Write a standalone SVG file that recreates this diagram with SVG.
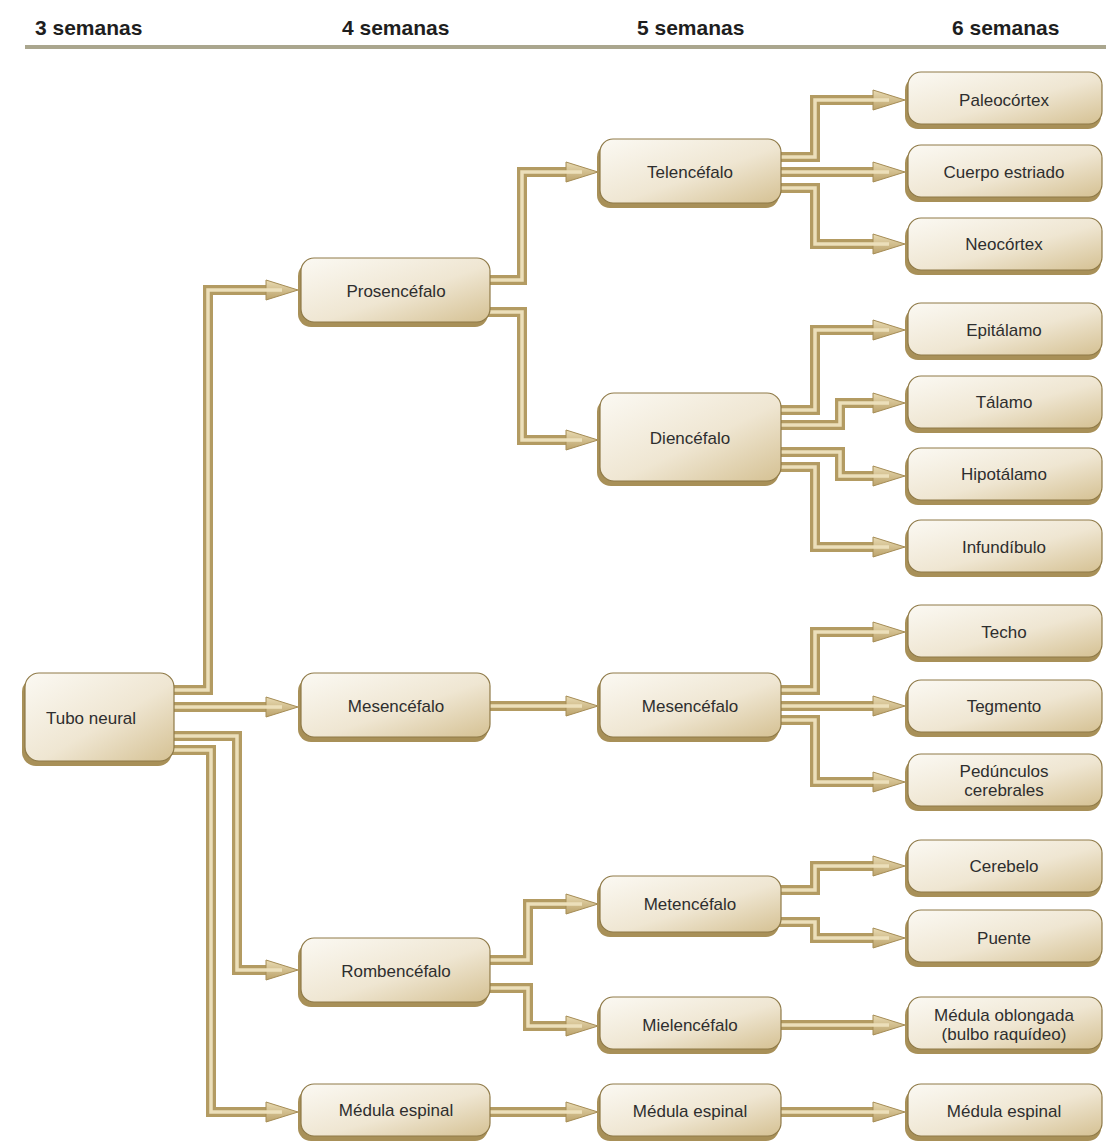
<svg xmlns="http://www.w3.org/2000/svg" width="1110" height="1143" viewBox="0 0 1110 1143">
<defs>
<linearGradient id="gb" x1="0" y1="0" x2="1" y2="1">
<stop offset="0" stop-color="#fbf9f3"/>
<stop offset="0.55" stop-color="#efe6d2"/>
<stop offset="1" stop-color="#d5c193"/>
</linearGradient>
<linearGradient id="ga" x1="0" y1="0" x2="0" y2="1">
<stop offset="0" stop-color="#e9dbb3"/>
<stop offset="1" stop-color="#bba26a"/>
</linearGradient>
<marker id="ah" markerUnits="userSpaceOnUse" markerWidth="34" markerHeight="26" viewBox="-2 -13 34 26" refX="12" refY="0" orient="auto">
<path d="M0,-10 L32,0 L0,10 Z" fill="url(#ga)" stroke="#a58c55" stroke-width="1"/>
</marker>
</defs>
<style>
.sh{fill:#a89058;}
.bx{fill:url(#gb);stroke:#8f7a48;stroke-width:1.2;}
.t{font-family:"Liberation Sans",Arial,sans-serif;font-size:17px;fill:#2e2e2e;text-anchor:middle;}
.h{font-family:"Liberation Sans",Arial,sans-serif;font-size:21px;font-weight:bold;fill:#1e1e1e;}
.co{fill:none;stroke:#b39b62;stroke-width:10;stroke-linejoin:miter;}
.ci{fill:none;stroke:#ecdfba;stroke-width:3.5;stroke-linejoin:miter;}
</style>
<rect width="1110" height="1143" fill="#ffffff"/>
<g id="header">
<text class="h" x="35" y="35">3 semanas</text>
<text class="h" x="342" y="35">4 semanas</text>
<text class="h" x="637" y="35">5 semanas</text>
<text class="h" x="952" y="35">6 semanas</text>
<line x1="25" y1="47" x2="1106" y2="47" stroke="#aaa68e" stroke-width="4"/>
</g>
<g id="connectors">
<g class="co" marker-end="url(#ah)">
<path d="M172,690 H208 V290 H278"/>
<path d="M172,707 H278"/>
<path d="M172,736 H237 V970 H278"/>
<path d="M172,750 H211 V1112 H278"/>
<path d="M488,280 H522 V172 H578"/>
<path d="M488,312 H522 V440 H578"/>
<path d="M488,706 H578"/>
<path d="M488,960 H528 V904 H578"/>
<path d="M488,988 H528 V1026 H578"/>
<path d="M488,1112 H578"/>
<path d="M778,157 H815 V100 H885"/>
<path d="M778,172 H885"/>
<path d="M778,188 H815 V244 H885"/>
<path d="M778,410 H815 V330 H885"/>
<path d="M778,425 H840 V403 H885"/>
<path d="M778,452 H840 V476 H885"/>
<path d="M778,467 H815 V547 H885"/>
<path d="M778,690 H815 V632 H885"/>
<path d="M778,706 H885"/>
<path d="M778,720 H815 V782 H885"/>
<path d="M778,890 H815 V866 H885"/>
<path d="M778,922 H815 V938 H885"/>
<path d="M778,1025 H885"/>
<path d="M778,1112 H885"/>
</g>
<g class="ci">
<path d="M172,690 H208 V290 H282"/>
<path d="M172,707 H282"/>
<path d="M172,736 H237 V970 H282"/>
<path d="M172,750 H211 V1112 H282"/>
<path d="M488,280 H522 V172 H582"/>
<path d="M488,312 H522 V440 H582"/>
<path d="M488,706 H582"/>
<path d="M488,960 H528 V904 H582"/>
<path d="M488,988 H528 V1026 H582"/>
<path d="M488,1112 H582"/>
<path d="M778,157 H815 V100 H889"/>
<path d="M778,172 H889"/>
<path d="M778,188 H815 V244 H889"/>
<path d="M778,410 H815 V330 H889"/>
<path d="M778,425 H840 V403 H889"/>
<path d="M778,452 H840 V476 H889"/>
<path d="M778,467 H815 V547 H889"/>
<path d="M778,690 H815 V632 H889"/>
<path d="M778,706 H889"/>
<path d="M778,720 H815 V782 H889"/>
<path d="M778,890 H815 V866 H889"/>
<path d="M778,922 H815 V938 H889"/>
<path d="M778,1025 H889"/>
<path d="M778,1112 H889"/>
</g>
</g>
<g id="n-tubo"><rect class="sh" x="22" y="678" width="150" height="88" rx="14"/><rect class="bx" x="25" y="673" width="149" height="88" rx="14"/><text class="t" x="91" y="724">Tubo neural</text></g>
<g id="n-prosencefalo"><rect class="sh" x="298" y="263" width="190" height="64" rx="13"/><rect class="bx" x="301" y="258" width="189" height="64" rx="13"/><text class="t" x="396" y="297">Prosencéfalo</text></g>
<g id="n-mesencefalo4"><rect class="sh" x="298" y="678" width="190" height="64" rx="13"/><rect class="bx" x="301" y="673" width="189" height="64" rx="13"/><text class="t" x="396" y="712">Mesencéfalo</text></g>
<g id="n-rombencefalo"><rect class="sh" x="298" y="943" width="190" height="64" rx="13"/><rect class="bx" x="301" y="938" width="189" height="64" rx="13"/><text class="t" x="396" y="977">Rombencéfalo</text></g>
<g id="n-medula4"><rect class="sh" x="298" y="1089" width="190" height="52" rx="13"/><rect class="bx" x="301" y="1084" width="189" height="52" rx="13"/><text class="t" x="396" y="1116">Médula espinal</text></g>
<g id="n-telencefalo"><rect class="sh" x="597" y="144" width="182" height="64" rx="13"/><rect class="bx" x="600" y="139" width="181" height="64" rx="13"/><text class="t" x="690" y="178">Telencéfalo</text></g>
<g id="n-diencefalo"><rect class="sh" x="597" y="398" width="182" height="88" rx="14"/><rect class="bx" x="600" y="393" width="181" height="88" rx="14"/><text class="t" x="690" y="444">Diencéfalo</text></g>
<g id="n-mesencefalo5"><rect class="sh" x="597" y="678" width="182" height="64" rx="13"/><rect class="bx" x="600" y="673" width="181" height="64" rx="13"/><text class="t" x="690" y="712">Mesencéfalo</text></g>
<g id="n-metencefalo"><rect class="sh" x="597" y="881" width="182" height="56" rx="13"/><rect class="bx" x="600" y="876" width="181" height="56" rx="13"/><text class="t" x="690" y="910">Metencéfalo</text></g>
<g id="n-mielencefalo"><rect class="sh" x="597" y="1002" width="182" height="52" rx="13"/><rect class="bx" x="600" y="997" width="181" height="52" rx="13"/><text class="t" x="690" y="1031">Mielencéfalo</text></g>
<g id="n-medula5"><rect class="sh" x="597" y="1089" width="182" height="52" rx="13"/><rect class="bx" x="600" y="1084" width="181" height="52" rx="13"/><text class="t" x="690" y="1117">Médula espinal</text></g>
<g id="n-paleocortex"><rect class="sh" x="905" y="77" width="196" height="52" rx="13"/><rect class="bx" x="908" y="72" width="194" height="52" rx="13"/><text class="t" x="1004" y="106">Paleocórtex</text></g>
<g id="n-cuerpo"><rect class="sh" x="905" y="150" width="196" height="52" rx="13"/><rect class="bx" x="908" y="145" width="194" height="52" rx="13"/><text class="t" x="1004" y="178">Cuerpo estriado</text></g>
<g id="n-neocortex"><rect class="sh" x="905" y="223" width="196" height="52" rx="13"/><rect class="bx" x="908" y="218" width="194" height="52" rx="13"/><text class="t" x="1004" y="250">Neocórtex</text></g>
<g id="n-epitalamo"><rect class="sh" x="905" y="308" width="196" height="52" rx="13"/><rect class="bx" x="908" y="303" width="194" height="52" rx="13"/><text class="t" x="1004" y="336">Epitálamo</text></g>
<g id="n-talamo"><rect class="sh" x="905" y="381" width="196" height="52" rx="13"/><rect class="bx" x="908" y="376" width="194" height="52" rx="13"/><text class="t" x="1004" y="408">Tálamo</text></g>
<g id="n-hipotalamo"><rect class="sh" x="905" y="453" width="196" height="52" rx="13"/><rect class="bx" x="908" y="448" width="194" height="52" rx="13"/><text class="t" x="1004" y="480">Hipotálamo</text></g>
<g id="n-infundibulo"><rect class="sh" x="905" y="525" width="196" height="52" rx="13"/><rect class="bx" x="908" y="520" width="194" height="52" rx="13"/><text class="t" x="1004" y="553">Infundíbulo</text></g>
<g id="n-techo"><rect class="sh" x="905" y="610" width="196" height="52" rx="13"/><rect class="bx" x="908" y="605" width="194" height="52" rx="13"/><text class="t" x="1004" y="638">Techo</text></g>
<g id="n-tegmento"><rect class="sh" x="905" y="685" width="196" height="52" rx="13"/><rect class="bx" x="908" y="680" width="194" height="52" rx="13"/><text class="t" x="1004" y="712">Tegmento</text></g>
<g id="n-pedunculos"><rect class="sh" x="905" y="759" width="196" height="52" rx="13"/><rect class="bx" x="908" y="754" width="194" height="52" rx="13"/><text class="t" x="1004" y="777">Pedúnculos</text><text class="t" x="1004" y="796">cerebrales</text></g>
<g id="n-cerebelo"><rect class="sh" x="905" y="845" width="196" height="52" rx="13"/><rect class="bx" x="908" y="840" width="194" height="52" rx="13"/><text class="t" x="1004" y="872">Cerebelo</text></g>
<g id="n-puente"><rect class="sh" x="905" y="915" width="196" height="52" rx="13"/><rect class="bx" x="908" y="910" width="194" height="52" rx="13"/><text class="t" x="1004" y="944">Puente</text></g>
<g id="n-oblongada"><rect class="sh" x="905" y="1002" width="196" height="52" rx="13"/><rect class="bx" x="908" y="997" width="194" height="52" rx="13"/><text class="t" x="1004" y="1021">Médula oblongada</text><text class="t" x="1004" y="1040">(bulbo raquídeo)</text></g>
<g id="n-medula6"><rect class="sh" x="905" y="1089" width="196" height="52" rx="13"/><rect class="bx" x="908" y="1084" width="194" height="52" rx="13"/><text class="t" x="1004" y="1117">Médula espinal</text></g>
</svg>
